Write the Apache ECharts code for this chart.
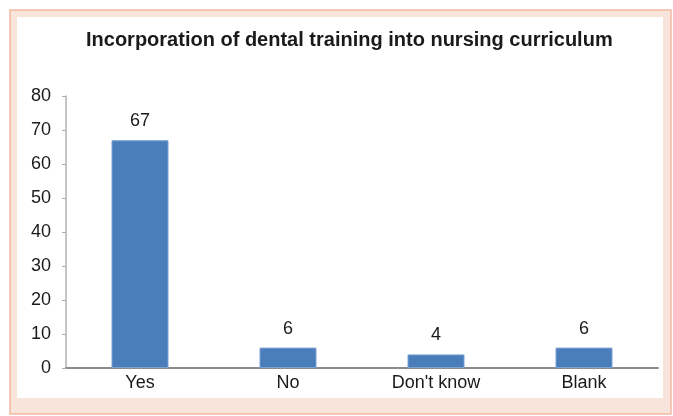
<!DOCTYPE html>
<html><head><meta charset="utf-8">
<script src="https://cdn.jsdelivr.net/npm/echarts@6/dist/echarts.min.js"></script>
<style>html,body{margin:0;padding:0;background:#fff}#c{width:673px;height:416px}</style>
</head><body><div id="c"></div>
<script>
var categories = ["Yes", "No", "Don't know", "Blank"];
var values = [67, 6, 4, 6];
var yTicks = [0, 10, 20, 30, 40, 50, 60, 70, 80];
var FONT = 'Liberation Sans, Arial, sans-serif';
var chart = echarts.init(document.getElementById('c'));
chart.setOption({
  backgroundColor: '#ffffff',
  animation: false,
  graphic: [
    {type: 'rect', z: -10, silent: true, shape: {x: 10, y: 10, width: 661, height: 404}, style: {fill: '#f8e4da', stroke: '#f2b6a2', lineWidth: 1.5}},
    {type: 'rect', z: -9, silent: true, shape: {x: 17, y: 17, width: 646, height: 381}, style: {fill: '#ffffff'}}
  ],
  title: {
    text: 'Incorporation of dental training into nursing curriculum',
    left: 81, top: 25,
    textStyle: {fontFamily: FONT, fontSize: 20, fontWeight: 'bold', color: '#1a1a1a'}
  },
  grid: {left: 66, right: 15, top: 96, bottom: 48, containLabel: false},
  xAxis: {
    type: 'category', data: categories,
    axisLine: {lineStyle: {color: '#8c8c8c', width: 2}},
    axisTick: {show: false},
    axisLabel: {fontFamily: FONT, fontSize: 18, color: '#1a1a1a', margin: 6}
  },
  yAxis: {
    type: 'value', min: yTicks[0], max: yTicks[yTicks.length - 1], interval: 10,
    axisLine: {show: true, lineStyle: {color: '#b0b0b0', width: 1.5}},
    axisTick: {show: true, length: 4, lineStyle: {color: '#b0b0b0'}},
    splitLine: {show: false},
    axisLabel: {fontFamily: FONT, fontSize: 18, color: '#1a1a1a', margin: 15}
  },
  series: [{
    type: 'bar', data: values, barWidth: 57,
    itemStyle: {color: '#4a7ebb', borderColor: '#7aa3d3', borderWidth: 1},
    label: {show: true, position: 'top', distance: 10, fontFamily: FONT, fontSize: 18, color: '#1a1a1a'}
  }]
});
</script></body></html>
